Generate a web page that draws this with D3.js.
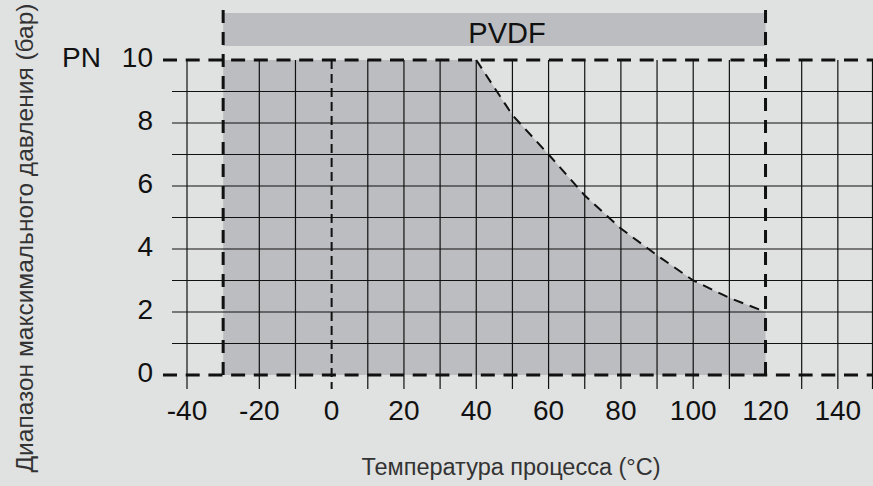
<!DOCTYPE html>
<html>
<head>
<meta charset="utf-8">
<script src="https://cdn.jsdelivr.net/npm/d3@7"></script>
<style>
  html, body { margin: 0; padding: 0; background: #e0e1e1; }
  svg { display: block; font-family: "Liberation Sans", Arial, sans-serif; }
</style>
</head>
<body>
<svg id="chart" width="873" height="486"></svg>
<script>
// chart values
const gridTemps = [-40, -20, -10, 10, 20, 30, 40, 50, 60, 70, 80, 90, 100, 110, 130, 140, 150];
const tempTicks = [-40, -20, 0, 20, 40, 60, 80, 100, 120, 140];
const gridPressures = [1, 2, 3, 4, 5, 6, 7, 8, 9];
const pressureTicks = [0, 2, 4, 6, 8, 10];
const rangeTemps = [-30, 120];          // PVDF operating limits
const nominalPressure = 10;             // PN 10
const curveTemps = [-30, 40, 50, 60, 70, 80, 90, 100, 110, 120];
const curvePressures = [10, 10, 8.25, 7.0, 5.7, 4.65, 3.8, 3.0, 2.45, 2.0];
const materialName = "PVDF";
const xTitle = "Температура процесса (°C)";
const yTitle = "Диапазон максимального давления (бар)";

const svg = d3.select("#chart");
const bg = "#e0e1e1", shade = "#bcbdc0", ink = "#111";

const x = d3.scaleLinear().domain([-40, 150]).range([187, 874]);
const y = d3.scaleLinear().domain([0, 10]).range([375, 60]);

svg.append("rect").attr("width", 873).attr("height", 486).attr("fill", bg);

// allowed region
const pts = curveTemps.map((t, i) => ({t: t, p: curvePressures[i]}));
const area = d3.area().x(d => x(d.t)).y0(y(0)).y1(d => y(d.p));
svg.append("path").datum(pts).attr("d", area).attr("fill", shade);

// material band
svg.append("rect")
  .attr("x", x(rangeTemps[0])).attr("y", 13)
  .attr("width", x(rangeTemps[1]) - x(rangeTemps[0])).attr("height", 33)
  .attr("fill", shade);
svg.append("text")
  .attr("x", x(48.5)).attr("y", 43)
  .attr("text-anchor", "middle").attr("font-size", 29).attr("fill", ink)
  .text(materialName);

// grid
svg.selectAll("line.hg").data(gridPressures).join("line")
  .attr("x1", 172).attr("x2", 873)
  .attr("y1", d => y(d)).attr("y2", d => y(d))
  .attr("stroke", ink).attr("stroke-width", 1.2);
svg.selectAll("line.vg").data(gridTemps).join("line")
  .attr("x1", d => Math.min(x(d), 872.5)).attr("x2", d => Math.min(x(d), 872.5))
  .attr("y1", y(10)).attr("y2", 389)
  .attr("stroke", ink).attr("stroke-width", 1.2);

// zero temperature line
svg.append("line")
  .attr("x1", x(0)).attr("x2", x(0)).attr("y1", y(10)).attr("y2", 389)
  .attr("stroke", ink).attr("stroke-width", 2).attr("stroke-dasharray", "9,5");

// pressure limit curve
const line = d3.line().x(d => x(d.t)).y(d => y(d.p));
svg.append("path").datum(pts.filter(d => d.t >= 40)).attr("d", line)
  .attr("fill", "none").attr("stroke", ink).attr("stroke-width", 2)
  .attr("stroke-dasharray", "10,7");

// heavy dashed limits
[0, nominalPressure].forEach(p => {
  svg.append("line")
    .attr("x1", 163).attr("x2", 873).attr("y1", y(p)).attr("y2", y(p))
    .attr("stroke", ink).attr("stroke-width", 3).attr("stroke-dasharray", "14,8.7");
});
rangeTemps.forEach(t => {
  svg.append("line")
    .attr("x1", x(t)).attr("x2", x(t)).attr("y1", 10).attr("y2", 381)
    .attr("stroke", ink).attr("stroke-width", 3).attr("stroke-dasharray", "13,9");
});

// tick labels
svg.selectAll("text.yl").data(pressureTicks).join("text")
  .attr("x", 153).attr("y", d => y(d)).attr("dy", "0.26em")
  .attr("text-anchor", "end").attr("font-size", 28).attr("fill", ink)
  .text(d => d);
svg.append("text")
  .attr("x", 62).attr("y", y(10)).attr("dy", "0.26em")
  .attr("font-size", 28).attr("fill", ink).text("PN");
svg.selectAll("text.xl").data(tempTicks).join("text")
  .attr("x", d => x(d)).attr("y", 420)
  .attr("text-anchor", "middle").attr("font-size", 28).attr("fill", ink)
  .text(d => d);

// axis titles
svg.append("text")
  .attr("x", 511).attr("y", 475)
  .attr("text-anchor", "middle").attr("font-size", 23.5).attr("fill", "#333")
  .text(xTitle);
svg.append("text")
  .attr("transform", "translate(33,238) rotate(-90)")
  .attr("text-anchor", "middle").attr("font-size", 24.5).attr("fill", "#333")
  .text(yTitle);
</script>
</body>
</html>
